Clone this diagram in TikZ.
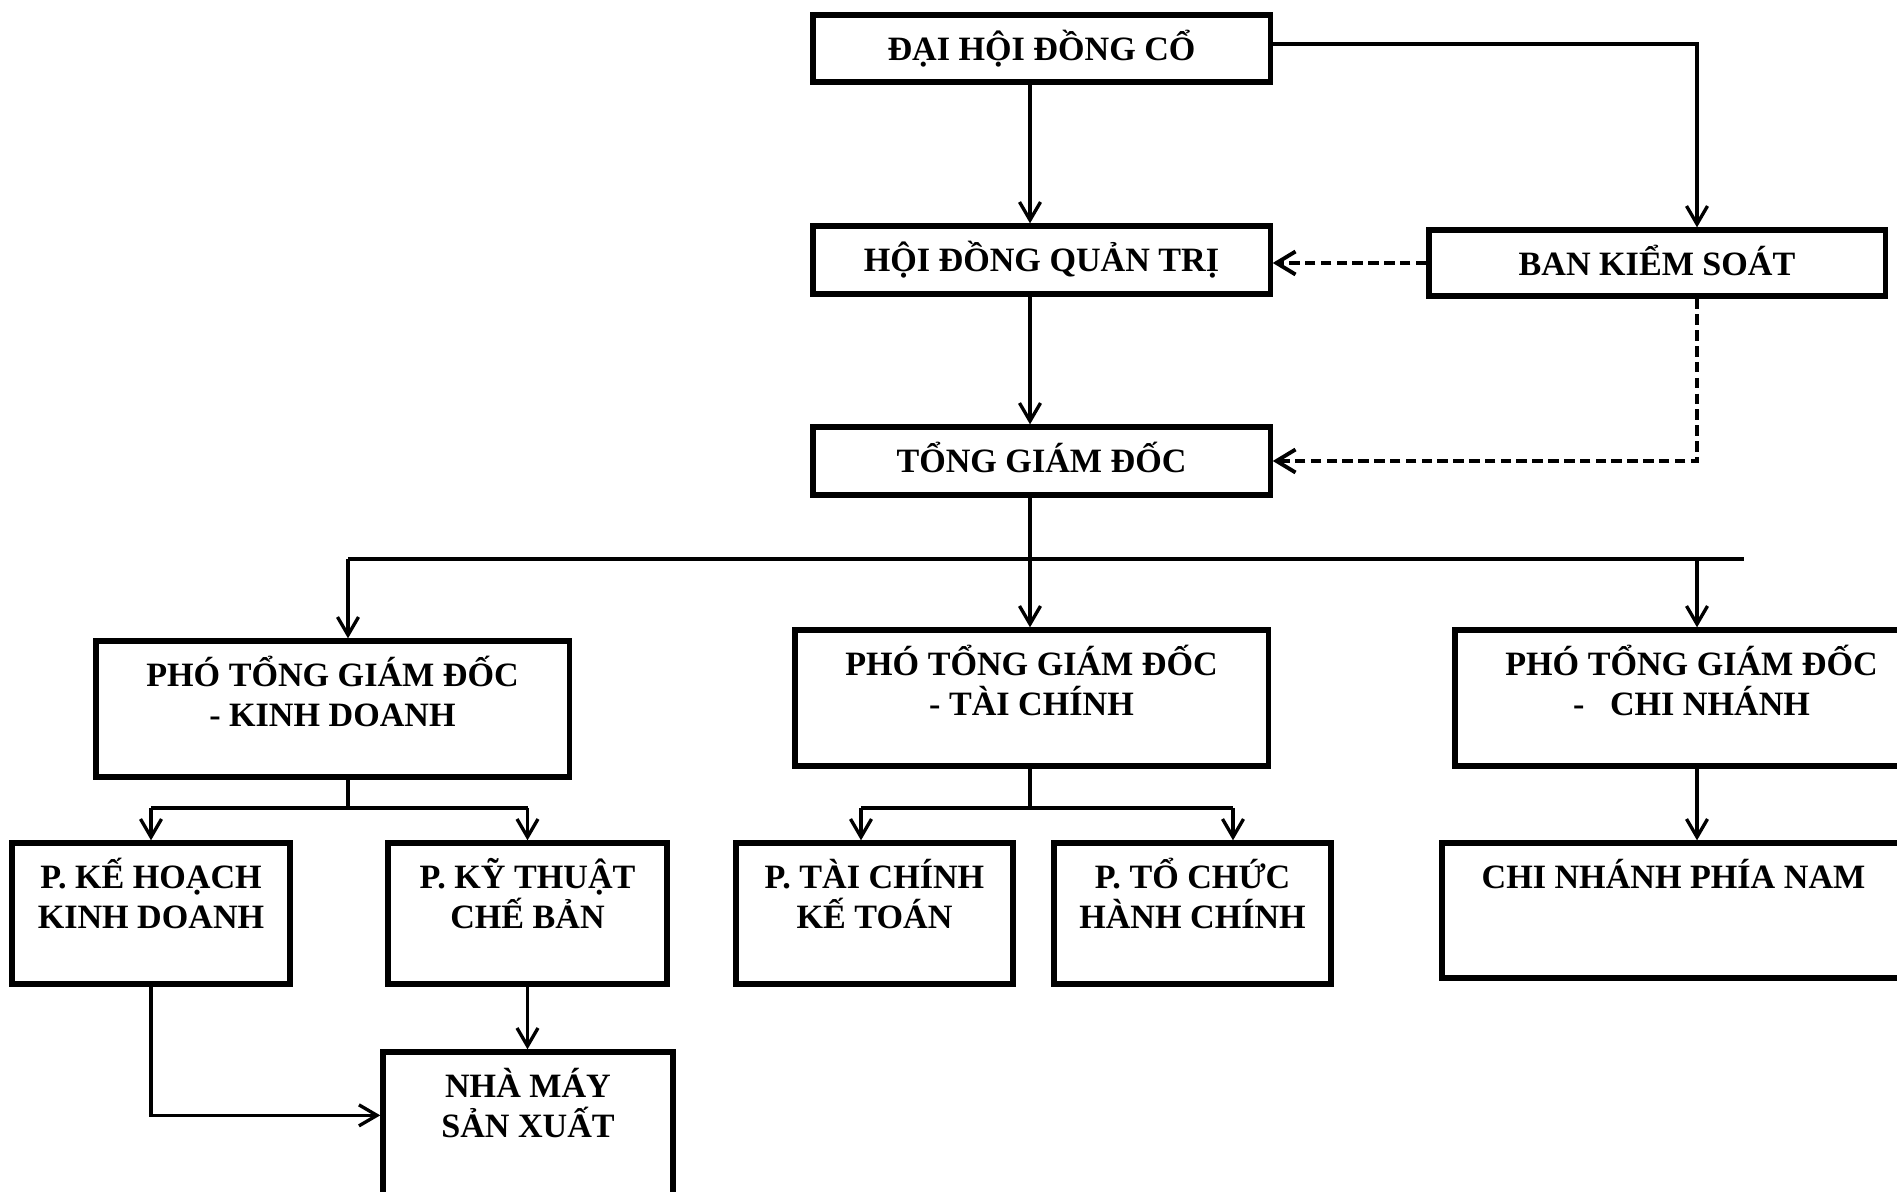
\documentclass[tikz,border=0pt]{standalone}
\usepackage{fontspec}
\setmainfont{Liberation Serif}
\usetikzlibrary{arrows.meta}
\newcommand{\noidung}[3]{\parbox[c][#2][t]{#1}{\centering\rule{0pt}{0.455cm}#3}}
\tikzstyle{khung} = [rectangle,draw=black,line width=1.5pt,inner sep=0pt,fill=white]
\tikzstyle{duong} = [line width=0.95pt]
\tikzstyle{muiten} = [duong,-{Straight Barb[length=1.8mm,width=2.1mm]}]
\tikzstyle{netdut} = [line width=1.1pt,dash pattern=on 3pt off 1.5pt,-{Straight Barb[length=1.9mm,width=2.3mm]}]

\begin{document}
\begin{tikzpicture}[x=0.01cm,y=-0.01cm]
\tikzstyle{every node}=[font=\fontsize{9.7}{11.5}\selectfont\bfseries]
\useasboundingbox (0,0) rectangle (1897,1192);

% 1 unit = 1 pixel of the page, y grows downwards

\node (dhdc) [khung] at (1041.5,48.5) {\noidung{4.57cm}{0.67cm}{ĐẠI HỘI ĐỒNG CỔ}};
\node (hdqt) [khung] at (1041.5,260) {\noidung{4.57cm}{0.68cm}{HỘI ĐỒNG QUẢN TRỊ}};
\node (bks)  [khung] at (1657,263) {\noidung{4.56cm}{0.66cm}{BAN KIỂM SOÁT}};
\node (tgd)  [khung] at (1041.5,461) {\noidung{4.57cm}{0.68cm}{TỔNG GIÁM ĐỐC}};

\node (ptkd) [khung] at (332.5,709) {\noidung{4.73cm}{1.36cm}{PHÓ TỔNG GIÁM ĐỐC\\- KINH DOANH}};
\node (pttc) [khung] at (1031.5,698) {\noidung{4.73cm}{1.36cm}{PHÓ TỔNG GIÁM ĐỐC\\- TÀI CHÍNH}};
\node (ptcn) [khung] at (1691.5,698) {\noidung{4.73cm}{1.36cm}{PHÓ TỔNG GIÁM ĐỐC\\-~~~CHI NHÁNH}};

\node (khkd) [khung] at (151,913.5) {\noidung{2.78cm}{1.41cm}{P. KẾ HOẠCH\\KINH DOANH}};
\node (ktcb) [khung] at (527.5,913.5) {\noidung{2.79cm}{1.41cm}{P. KỸ THUẬT\\CHẾ BẢN}};
\node (nmsx) [khung] at (528,1124.5) {\noidung{2.90cm}{1.45cm}{NHÀ MÁY\\SẢN XUẤT}};
\node (tckt) [khung] at (874.5,913.5) {\noidung{2.77cm}{1.41cm}{P. TÀI CHÍNH\\KẾ TOÁN}};
\node (tchc) [khung] at (1192.5,913.5) {\noidung{2.77cm}{1.41cm}{P. TỔ CHỨC\\HÀNH CHÍNH}};
\node (cnpn) [khung] at (1673.5,910.5) {\noidung{4.63cm}{1.35cm}{CHI NHÁNH PHÍA NAM}};

\coordinate (truc) at (1030,559);
\coordinate (bustrai) at (348,559);
\coordinate (busphai) at (1744,559);
\coordinate (cotphai) at (1697,559);
\coordinate (kdre) at (348,808);
\coordinate (tctrai) at (861,808);
\coordinate (tcphai) at (1233,808);

\draw[muiten] (dhdc.south -| truc) -- (hdqt.north -| truc);
\draw[muiten] (hdqt.south -| truc) -- (tgd.north -| truc);
\draw[muiten] ([yshift=0.045cm]dhdc.east) -| (cotphai |- bks.north);

\draw[netdut] (bks.west) -- (bks.west -| hdqt.east);
\draw[netdut] (cotphai |- bks.south) |- (tgd.east);

\draw[duong] (tgd.south -| truc) -- (truc);
\draw[duong] (bustrai) -- (busphai);
\draw[muiten] (bustrai) -- (bustrai |- ptkd.north);
\draw[muiten] (truc) -- (truc |- pttc.north);
\draw[muiten] (cotphai) -- (cotphai |- ptcn.north);

\draw[duong] (bustrai |- ptkd.south) -- (kdre);
\draw[duong] (kdre -| khkd.north) -- (kdre -| ktcb.north);
\draw[muiten] (kdre -| khkd.north) -- (khkd.north);
\draw[muiten] (kdre -| ktcb.north) -- (ktcb.north);
\draw[muiten] (ktcb.south) -- (ktcb.south |- nmsx.north);
\draw[muiten] (khkd.south) |- ([yshift=-0.66cm]nmsx.north west);

\draw[duong] (pttc.south -| truc) -- (truc |- tctrai);
\draw[duong] (tctrai) -- (tcphai);
\draw[muiten] (tctrai) -- (tctrai |- tckt.north);
\draw[muiten] (tcphai) -- (tcphai |- tchc.north);

\draw[muiten] (cotphai |- ptcn.south) -- (cotphai |- cnpn.north);
\end{tikzpicture}
\end{document}
